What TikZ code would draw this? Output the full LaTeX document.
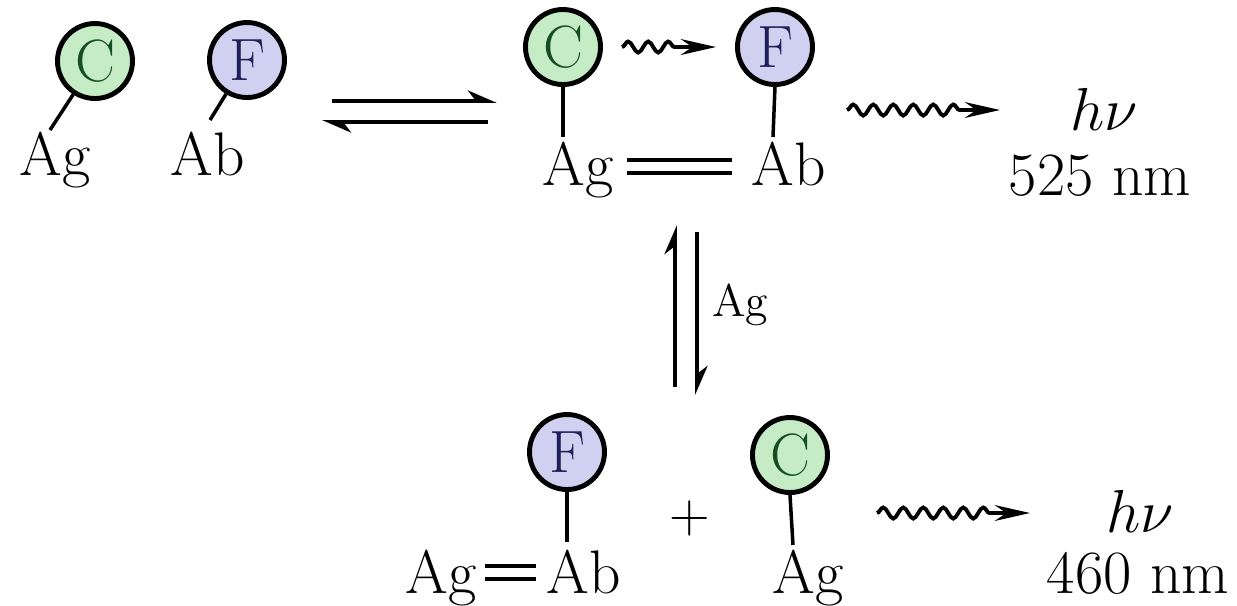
\documentclass[tikz,border=0pt]{standalone}
\usetikzlibrary{arrows.meta,positioning,decorations.pathmorphing}
\definecolor{cfill}{RGB}{198,236,198}
\definecolor{ctext}{RGB}{20,80,30}
\definecolor{ffill}{RGB}{208,208,240}
\definecolor{ftext}{RGB}{30,30,90}

\begin{document}
\begin{tikzpicture}[>=Stealth,
  donor/.style={circle, draw, line width=1.4pt, minimum size=7.5mm, inner sep=0pt,
    fill=cfill, text=ctext, font=\fontsize{17}{17}\selectfont},
  acceptor/.style={donor, fill=ffill, text=ftext},
  lbl/.style={anchor=base, inner sep=0pt, font=\fontsize{17.5}{20}\selectfont},
  stalk/.style={line width=1pt},
  bond/.style={line width=1.3pt},
  eq/.style={line width=1.1pt, -{Stealth[harpoon, length=7pt, width=6pt]}},
  wave/.style={line width=1.1pt, decorate,
    decoration={snake, amplitude=0.55mm, segment length=2mm, post length=4mm},
    -{Stealth[length=10pt, width=4.5pt]}}]
  \useasboundingbox (0,0) rectangle (12.37,-6.05);

  % free antigen and antibody
  \node[donor] (cC1) at (0.95,-0.61) {C};
  \node[acceptor] (fF1) at (2.47,-0.60) {F};
  \node[lbl] (ag1) at (0.55,-1.75) {Ag};
  \node[lbl] (ab1) at (2.08,-1.75) {Ab};
  \coordinate (s1) at (0.50,-1.30);
  \coordinate (s2) at (2.10,-1.20);
  \draw[stalk] (cC1) -- (s1);
  \draw[stalk] (fF1) -- (s2);

  % binding equilibrium
  \coordinate (fwdA) at (3.32,-1.01);
  \coordinate (fwdB) at (4.97,-1.01);
  \coordinate (bckA) at (4.88,-1.22);
  \coordinate (bckB) at (3.22,-1.22);
  \draw[eq] (fwdA) -- (fwdB);
  \draw[eq] (bckA) -- (bckB);

  % bound complex, energy transfer
  \node[donor] (cC2) at (5.63,-0.47) {C};
  \node[acceptor] (fF2) at (7.75,-0.47) {F};
  \node[lbl] (ag2) at (5.78,-1.85) {Ag};
  \node[lbl] (ab2) at (7.89,-1.85) {Ab};
  \draw[stalk] (cC2.south) -- ++(0,-0.5);
  \draw[stalk] (fF2.south) -- ++(-0.02,-0.5);
  \draw[bond, shorten <=0.13cm, shorten >=0.19cm]
    ([yshift=0.25cm]ag2.base east) -- ([yshift=0.25cm]ab2.base west);
  \draw[bond, shorten <=0.13cm, shorten >=0.19cm]
    ([yshift=0.12cm]ag2.base east) -- ([yshift=0.12cm]ab2.base west);
  \draw[wave] ([xshift=0.19cm]cC2.east) -- ([xshift=-0.19cm]fF2.west);

  % emission 525 nm
  \node[lbl] (hv1) at (11.04,-1.30) {$h\nu$};
  \node[lbl] (nm1) at (11.00,-1.95) {525 nm};
  \coordinate (w1a) at (8.47,-1.10);
  \coordinate (w1b) at (10.00,-1.10);
  \draw[wave] (w1a) -- (w1b);

  % displacement by free Ag
  \coordinate (upA) at (6.75,-3.87);
  \coordinate (upB) at (6.75,-2.25);
  \coordinate (dnA) at (6.97,-2.32);
  \coordinate (dnB) at (6.97,-3.95);
  \draw[eq] (upA) -- (upB);
  \draw[eq] (dnA) -- (dnB);
  \node[font=\fontsize{13}{15}\selectfont] (agx) at (7.40,-3.05) {Ag};

  % products
  \node[acceptor] (fF3) at (5.67,-4.52) {F};
  \node[lbl] (ag3) at (4.41,-5.93) {Ag};
  \node[lbl] (ab3) at (5.84,-5.93) {Ab};
  \draw[stalk] (fF3.south) -- ++(0,-0.5);
  \draw[bond, shorten <=0.08cm, shorten >=0.1cm]
    ([yshift=0.27cm]ag3.base east) -- ([yshift=0.27cm]ab3.base west);
  \draw[bond, shorten <=0.08cm, shorten >=0.1cm]
    ([yshift=0.14cm]ag3.base east) -- ([yshift=0.14cm]ab3.base west);
  \node[font=\fontsize{16}{18}\selectfont] (plus) at (6.90,-5.18) {+};
  \node[donor] (cC3) at (7.90,-4.55) {C};
  \node[lbl] (ag4) at (8.08,-5.93) {Ag};
  \draw[stalk] (cC3.south) -- ++(0.03,-0.5);

  % emission 460 nm
  \node[lbl] (hv2) at (11.40,-5.32) {$h\nu$};
  \node[lbl] (nm2) at (11.38,-5.93) {460 nm};
  \coordinate (w2a) at (8.77,-5.13);
  \coordinate (w2b) at (10.30,-5.13);
  \draw[wave] (w2a) -- (w2b);
\end{tikzpicture}
\end{document}
